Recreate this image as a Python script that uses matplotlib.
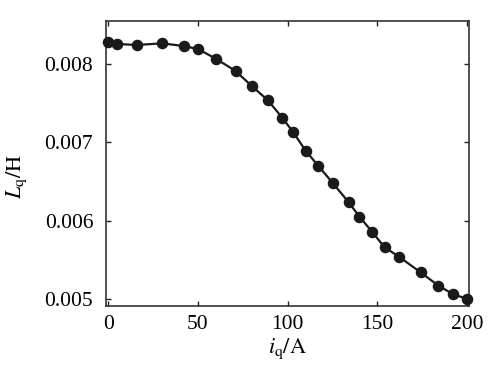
import matplotlib
matplotlib.use("Agg")
import matplotlib.pyplot as plt

# leitura aproximada do grafico original
iq = [0, 5, 16, 30, 42, 50, 60, 71, 80, 89, 97, 103, 110, 117, 125,
      134, 140, 147, 154, 162, 174, 184, 192, 200]
Lq = [0.008282, 0.008253, 0.008240, 0.008261, 0.008227, 0.008189,
      0.008065, 0.007908, 0.007717, 0.007534, 0.007312, 0.007130,
      0.006892, 0.006700, 0.006483, 0.006233, 0.006050, 0.005858,
      0.005659, 0.005540, 0.005341, 0.005170, 0.005064, 0.005000]

xticks = [0, 50, 100, 150, 200]
yticks = [0.005, 0.006, 0.007, 0.008]
ytick_labels = ["0.005", "0.006", "0.007", "0.008"]

plt.rcParams["font.family"] = "Liberation Serif"
plt.rcParams["mathtext.fontset"] = "stix"

fig = plt.figure(figsize=(5.03, 3.69), dpi=100)
ax = fig.add_axes([0.2107, 0.1707, 0.7217, 0.7724])

ax.plot(iq, Lq, "-o", color="#1a1a1a", lw=1.6, ms=7.3, clip_on=False, zorder=3)

ax.set_xlim(-1.2, 201)
ax.set_ylim(0.004911, 0.008546)
ax.set_xticks(xticks)
ax.set_yticks(yticks)
ax.set_yticklabels(ytick_labels)

ax.tick_params(direction="in", length=3.6, width=1.0, color="#222222",
               top=True, right=True, labelsize=15.5)
ax.tick_params(axis="y", pad=9.2)
ax.tick_params(axis="x", pad=6.3)
for s in ax.spines.values():
    s.set_color("#333333")
    s.set_linewidth(1.2)

ax.set_xlabel(r"$i_{\mathrm{q}}/\mathrm{A}$", fontsize=16, labelpad=2)
ax.set_ylabel(r"$L_{\mathrm{q}}/\mathrm{H}$", fontsize=16)
ax.yaxis.set_label_coords(-0.212, 0.456)

fig.savefig("out.png", dpi=100)
